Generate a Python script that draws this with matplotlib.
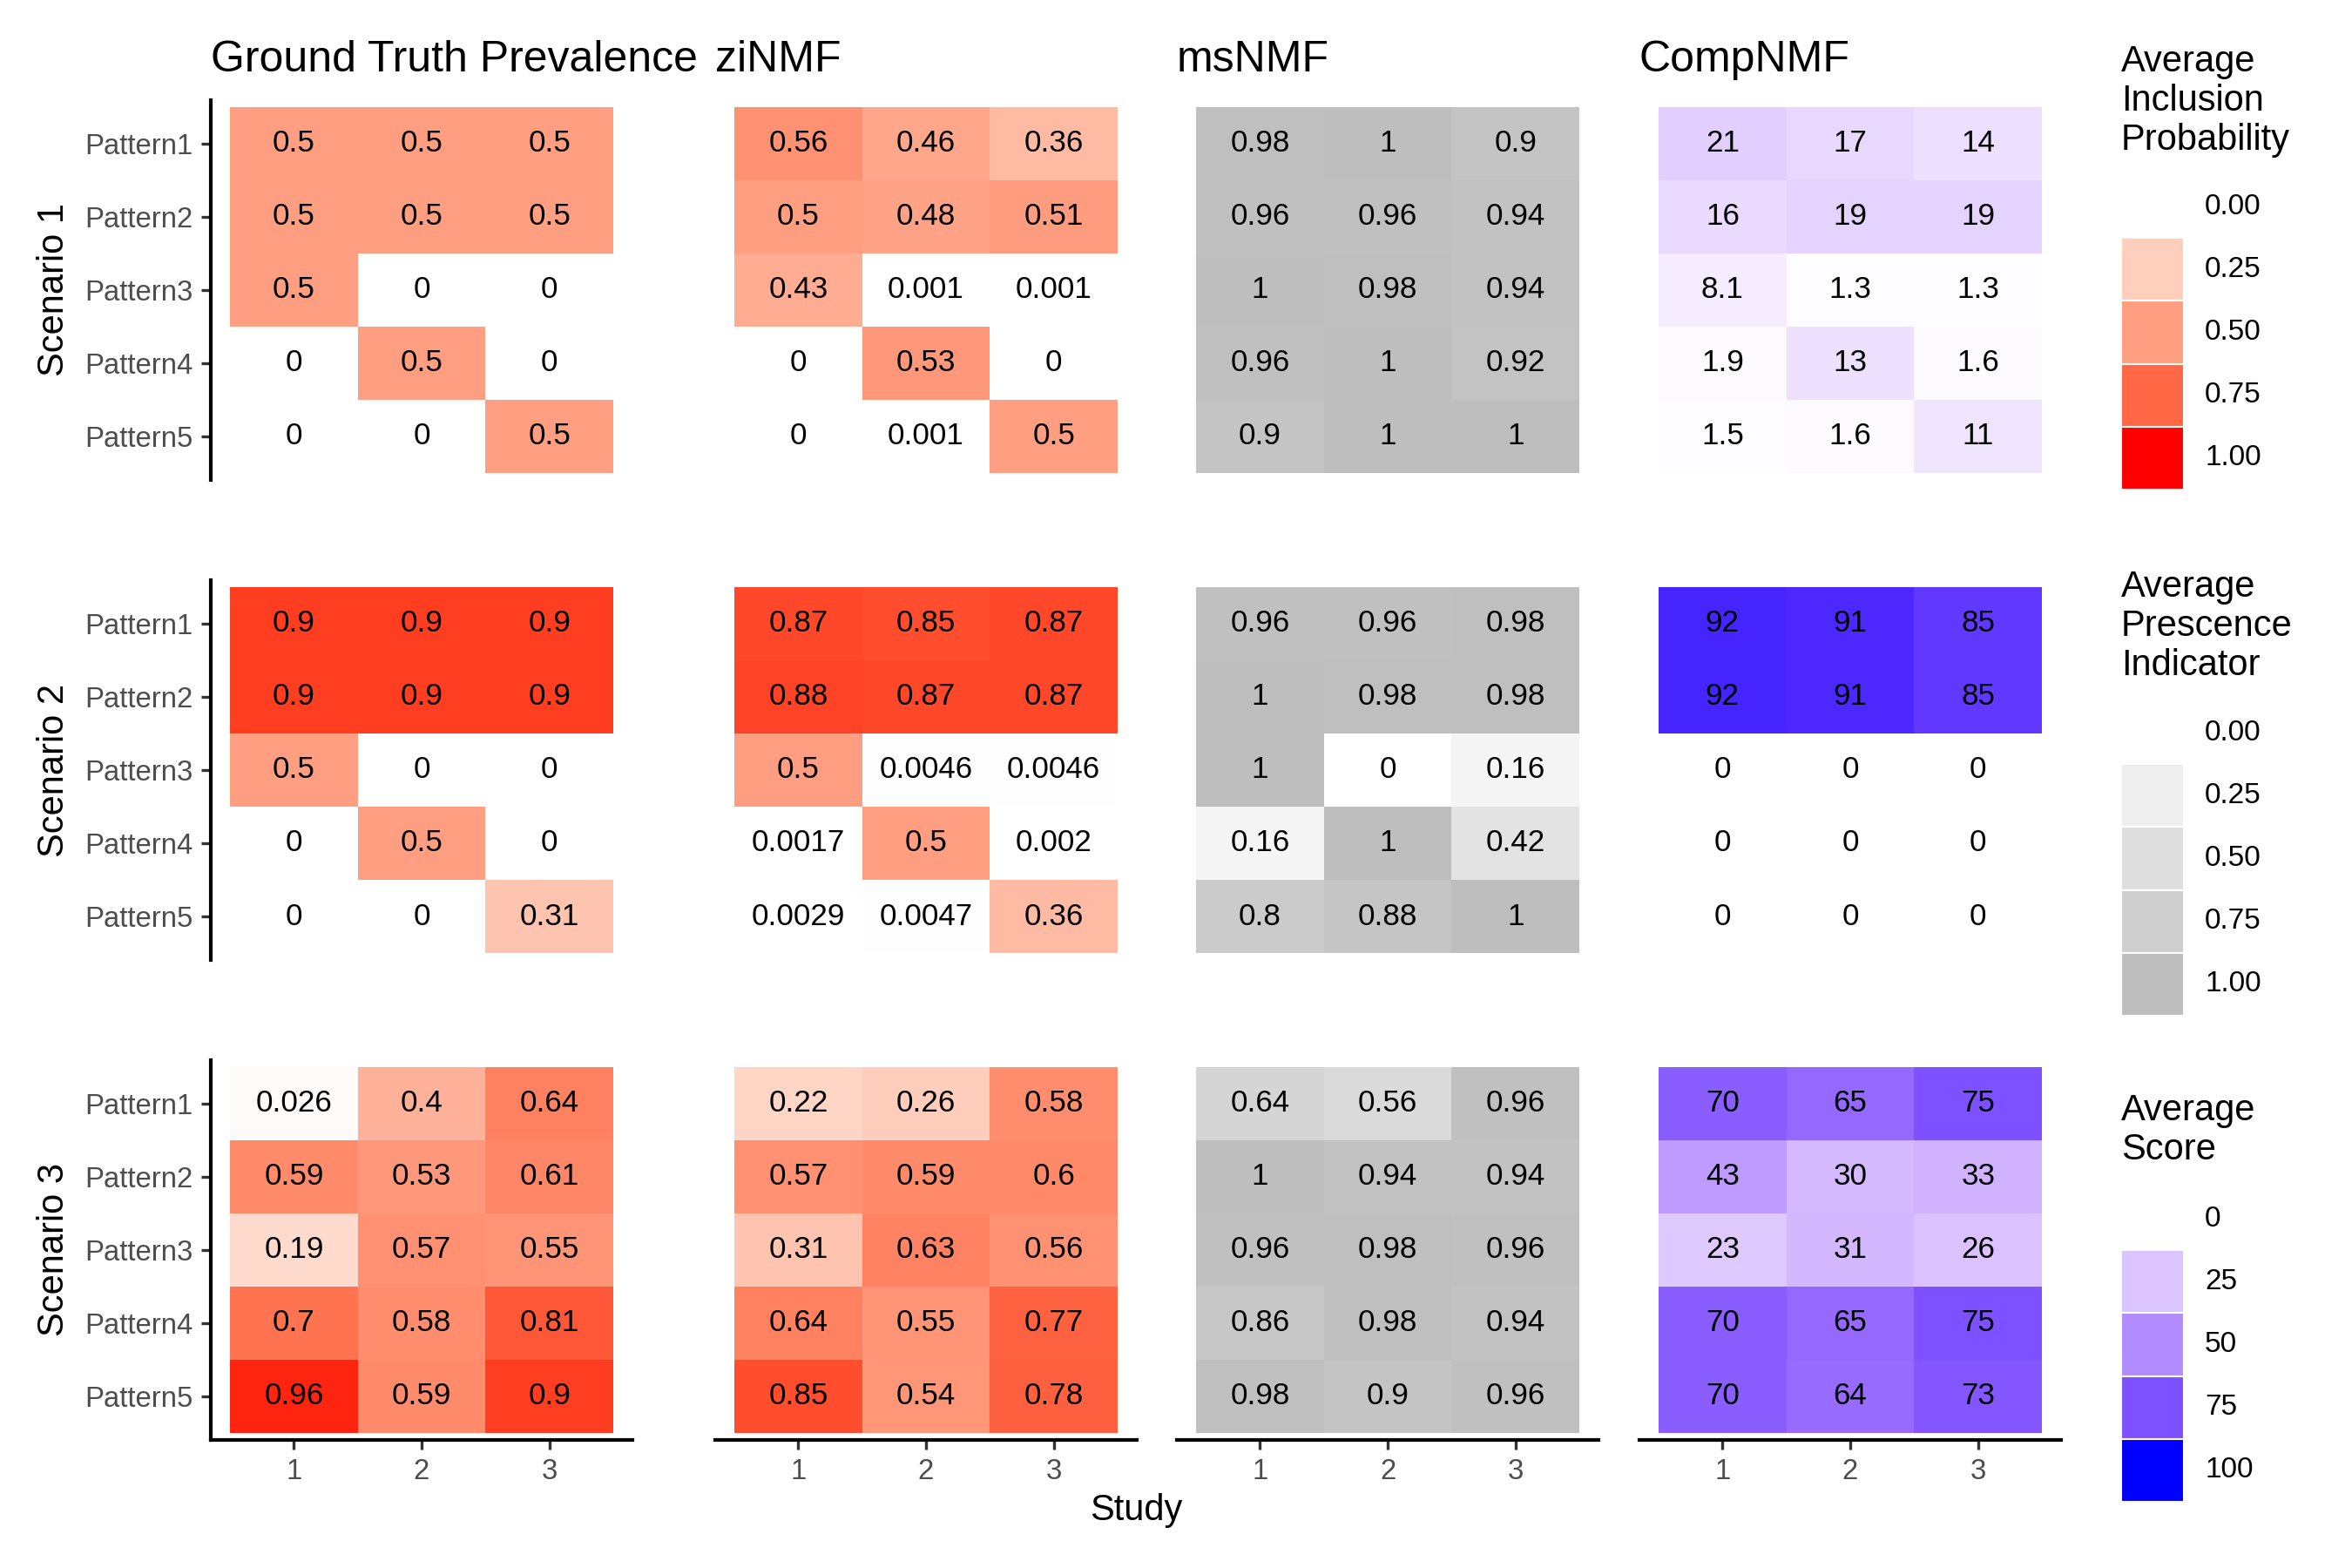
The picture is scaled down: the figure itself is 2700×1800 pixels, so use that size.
import matplotlib
matplotlib.use('Agg')
import matplotlib.pyplot as plt
import numpy as np
from matplotlib.colors import ListedColormap
from matplotlib.patches import Rectangle

plt.rcParams['font.family'] = ['Liberation Sans', 'DejaVu Sans']

# data
methods = ['Ground Truth Prevalence', 'ziNMF', 'msNMF', 'CompNMF']
scenarios = ['Scenario 1', 'Scenario 2', 'Scenario 3']
patterns = ['Pattern1', 'Pattern2', 'Pattern3', 'Pattern4', 'Pattern5']
studies = [1, 2, 3]

# scenario 1
s1_truth = [[0.5, 0.5, 0.5], [0.5, 0.5, 0.5], [0.5, 0, 0], [0, 0.5, 0], [0, 0, 0.5]]
s1_zinmf = [[0.56, 0.46, 0.36], [0.5, 0.48, 0.51], [0.43, 0.001, 0.001], [0, 0.53, 0], [0, 0.001, 0.5]]
s1_msnmf = [[0.98, 1, 0.9], [0.96, 0.96, 0.94], [1, 0.98, 0.94], [0.96, 1, 0.92], [0.9, 1, 1]]
s1_comp = [[21, 17, 14], [16, 19, 19], [8.1, 1.3, 1.3], [1.9, 13, 1.6], [1.5, 1.6, 11]]
# scenario 2
s2_truth = [[0.9, 0.9, 0.9], [0.9, 0.9, 0.9], [0.5, 0, 0], [0, 0.5, 0], [0, 0, 0.31]]
s2_zinmf = [[0.87, 0.85, 0.87], [0.88, 0.87, 0.87], [0.5, 0.0046, 0.0046], [0.0017, 0.5, 0.002], [0.0029, 0.0047, 0.36]]
s2_msnmf = [[0.96, 0.96, 0.98], [1, 0.98, 0.98], [1, 0, 0.16], [0.16, 1, 0.42], [0.8, 0.88, 1]]
s2_comp = [[92, 91, 85], [92, 91, 85], [0, 0, 0], [0, 0, 0], [0, 0, 0]]
# scenario 3
s3_truth = [[0.026, 0.4, 0.64], [0.59, 0.53, 0.61], [0.19, 0.57, 0.55], [0.7, 0.58, 0.81], [0.96, 0.59, 0.9]]
s3_zinmf = [[0.22, 0.26, 0.58], [0.57, 0.59, 0.6], [0.31, 0.63, 0.56], [0.64, 0.55, 0.77], [0.85, 0.54, 0.78]]
s3_msnmf = [[0.64, 0.56, 0.96], [1, 0.94, 0.94], [0.96, 0.98, 0.96], [0.86, 0.98, 0.94], [0.98, 0.9, 0.96]]
s3_comp = [[70, 65, 75], [43, 30, 33], [23, 31, 26], [70, 65, 75], [70, 64, 73]]

grid = [[s1_truth, s1_zinmf, s1_msnmf, s1_comp],
        [s2_truth, s2_zinmf, s2_msnmf, s2_comp],
        [s3_truth, s3_zinmf, s3_msnmf, s3_comp]]

prob_breaks = [0.0, 0.25, 0.5, 0.75, 1.0]
score_breaks = [0, 25, 50, 75, 100]


# white -> colour ramp in CIELAB, like ggplot's scale_fill_gradient
def to_lab(rgb):
    c = np.asarray(rgb, float)
    lin = np.where(c <= 0.04045, c / 12.92, ((c + 0.055) / 1.055) ** 2.4)
    M = np.array([[0.4124564, 0.3575761, 0.1804375],
                  [0.2126729, 0.7151522, 0.0721750],
                  [0.0193339, 0.1191920, 0.9503041]])
    xyz = M @ lin / np.array([0.95047, 1.0, 1.08883])
    d = 6 / 29
    f = np.where(xyz > d ** 3, np.cbrt(xyz), xyz / (3 * d * d) + 4 / 29)
    return np.array([116 * f[1] - 16, 500 * (f[0] - f[1]), 200 * (f[1] - f[2])])


def from_lab(lab):
    L, a, b = lab
    fy = (L + 16) / 116
    fx = fy + a / 500
    fz = fy - b / 200
    d = 6 / 29
    f = np.array([fx, fy, fz])
    xyz = np.where(f > d, f ** 3, 3 * d * d * (f - 4 / 29)) * np.array([0.95047, 1.0, 1.08883])
    Minv = np.array([[3.2404542, -1.5371385, -0.4985314],
                     [-0.9692660, 1.8760108, 0.0415560],
                     [0.0556434, -0.2040259, 1.0572252]])
    lin = Minv @ xyz
    lin = np.clip(lin, 0, 1)
    c = np.where(lin <= 0.0031308, 12.92 * lin, 1.055 * lin ** (1 / 2.4) - 0.055)
    return np.clip(c, 0, 1)


def lab_ramp(high):
    lo = to_lab([1, 1, 1])
    hi = to_lab(high)
    cols = [from_lab(lo + t * (hi - lo)) for t in np.linspace(0, 1, 256)]
    return ListedColormap(cols)


red = lab_ramp([1, 0, 0])
grey = lab_ramp([190 / 255, 190 / 255, 190 / 255])
blue = lab_ramp([0, 0, 1])
col_cmaps = [(red, 0, 1), (red, 0, 1), (grey, 0, 1), (blue, 0, 100)]

W, H = 2700, 1800
fig = plt.figure(figsize=(9, 6), dpi=300)

col_x = [242, 821, 1351, 1882]
col_w = 484
row_y = [114.6, 665.6, 1216.6]
row_h = 436.8

xe = np.arange(0.5, 4.0, 1.0)
ye = np.arange(0.5, 6.0, 1.0)

for r in range(3):
    for c in range(4):
        x0, y0 = col_x[c], row_y[r]
        ax = fig.add_axes([x0 / W, 1 - (y0 + row_h) / H, col_w / W, row_h / H])
        vals = np.array(grid[r][c], float)
        cmap, vmin, vmax = col_cmaps[c]
        ax.pcolormesh(xe, ye, vals, cmap=cmap, vmin=vmin, vmax=vmax,
                      antialiased=False, linewidth=0)
        for i in range(5):
            for j in range(3):
                ax.text(studies[j], i + 1, f'{vals[i, j]:.2g}', ha='center', va='center',
                        fontsize=8.4, color='black')
        ax.set_xlim(0.35, 3.65)
        ax.set_ylim(5.6, 0.4)
        for s in ['top', 'right', 'left', 'bottom']:
            ax.spines[s].set_visible(False)
        ax.tick_params(colors='#333333', labelcolor='#4D4D4D', labelsize=7.9,
                       length=2.75, width=0.8, pad=2.2)
        if c == 0:
            ax.spines['left'].set_visible(True)
            ax.spines['left'].set_linewidth(1.0)
            ax.set_yticks(range(1, 6))
            ax.set_yticklabels(patterns)
        else:
            ax.set_yticks([])
        if r == 2:
            ax.spines['bottom'].set_visible(True)
            ax.spines['bottom'].set_linewidth(1.0)
            ax.set_xticks(studies)
            ax.set_xticklabels([str(s) for s in studies])
        else:
            ax.set_xticks([])
        if r == 0:
            ax.set_title(methods[c], loc='left', fontsize=12, pad=7.8)
    fig.text(62 / W, 1 - (row_y[r] + row_h / 2) / H, scenarios[r], rotation=90,
             ha='center', va='center', fontsize=10)

fig.text(1304 / W, 1 - 1745 / H, 'Study', ha='center', va='baseline', fontsize=10)

# legends
lg = fig.add_axes([0, 0, 1, 1])
lg.set_xlim(0, W)
lg.set_ylim(H, 0)
lg.axis('off')
legends = [
    (['Average', 'Inclusion', 'Probability'], 82, 201, red, 1.0,
     prob_breaks, ['0.00', '0.25', '0.50', '0.75', '1.00']),
    (['Average', 'Prescence', 'Indicator'], 685, 805, grey, 1.0,
     prob_breaks, ['0.00', '0.25', '0.50', '0.75', '1.00']),
    (['Average', 'Score'], 1286, 1363, blue, 100.0,
     score_breaks, ['0', '25', '50', '75', '100']),
]
kh = 72.2
for lines, base, top, cmap, vmax, brks, labs in legends:
    for k, ln in enumerate(lines):
        lg.text(2435, base + k * 45, ln, ha='left', va='baseline', fontsize=10)
    for k, (b, lab) in enumerate(zip(brks, labs)):
        yk = top + k * kh
        lg.add_patch(Rectangle((2435, yk), 72, kh, facecolor=cmap(b / vmax),
                               edgecolor='white', linewidth=0.5))
        lg.text(2531, yk + kh / 2, lab, ha='left', va='center', fontsize=8)

fig.savefig('out.png', dpi=300, facecolor='white')
